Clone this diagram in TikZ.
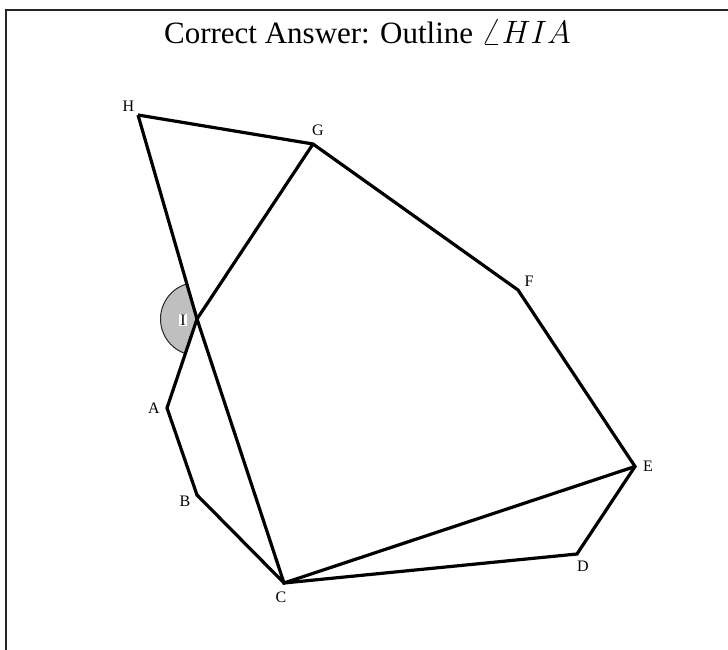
\documentclass[tikz,border=0pt]{standalone}
\usepackage{fontspec}
\setmainfont{Liberation Serif}
\begin{document}
\begin{tikzpicture}[x=1pt,y=1pt,
  edge/.style={line width=3.2pt, black},
  lbl/.style={font=\fontsize{16}{18}\selectfont, inner sep=1pt},
  frame/.style={line width=1.6pt, black!85},
  anglefill/.style={fill=black!25, draw=black!85, line width=1pt}]
\useasboundingbox (0,0) rectangle (728,650);
\draw[frame] (6,0) -- (6,640) -- (728,640);
\node[anchor=base, inner sep=0pt, font=\fontsize{31}{36}\selectfont] (title) at (367.5,606) {Correct Answer: Outline \scalebox{1.3}{$\angle HIA$}};
\coordinate (H) at (138,535);
\coordinate (G) at (313,506);
\coordinate (F) at (518,360);
\coordinate (E) at (635,183.5);
\coordinate (D) at (577,96);
\coordinate (C) at (284,67);
\coordinate (B) at (197,155);
\coordinate (A) at (167,242);
\coordinate (I) at (197,331);
\filldraw[anglefill] (I) -- ++(106.1:36.5) arc[start angle=106.1, end angle=251.4, radius=36.5] -- cycle;
\draw[edge] (H) -- (G) -- (F) -- (E) -- (D) -- (C) -- (B) -- (A) -- (I) -- (G);
\draw[edge] (H) -- (I) -- (C) -- (E);
\node[lbl] (lH) at (128.5,544) {H};
\node[lbl] (lG) at (318,520) {G};
\node[lbl] (lF) at (529,369) {F};
\node[lbl] (lE) at (648,184) {E};
\node[lbl] (lD) at (583,84) {D};
\node[lbl] (lC) at (281,53) {C};
\node[lbl] (lB) at (185,149) {B};
\node[lbl] (lA) at (154,242) {A};
\node[lbl, fill=white] (lI) at (183,330) {I};
\end{tikzpicture}
\end{document}
